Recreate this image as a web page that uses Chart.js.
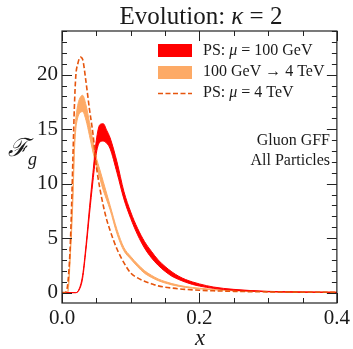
<!DOCTYPE html>
<html>
<head>
<meta charset="utf-8">
<script src="https://cdn.jsdelivr.net/npm/chart.js@4.4.1/dist/chart.umd.min.js"></script>
<style>
  html, body { margin: 0; padding: 0; background: #fff; }
  #wrap { width: 353px; height: 349px; }
</style>
</head>
<body>
<div id="wrap"><canvas id="gff" width="353" height="349"></canvas></div>
<script>
// PS: mu = 100 GeV (band)
const redX = [0, 0.02, 0.025, 0.03, 0.035, 0.04, 0.045, 0.05, 0.055, 0.06, 0.065, 0.07, 0.08, 0.09, 0.10, 0.11, 0.12, 0.13, 0.14, 0.15, 0.16, 0.17, 0.18, 0.19, 0.20, 0.22, 0.25, 0.30, 0.35, 0.40];
const redUpper = [0, 0, 0.35, 1.6, 4.4, 7.8, 11.0, 14.0, 15.4, 15.5, 14.9, 14.2, 12.0, 9.3, 7.4, 5.9, 4.7, 3.8, 3.0, 2.4, 1.9, 1.5, 1.2, 0.98, 0.8, 0.52, 0.3, 0.12, 0.06, 0.03];
const redLower = [0, 0, 0.25, 1.3, 4.0, 7.2, 10.2, 12.8, 13.8, 13.9, 13.7, 13.2, 11.0, 8.6, 6.8, 5.3, 4.1, 3.2, 2.5, 1.95, 1.5, 1.2, 0.95, 0.75, 0.6, 0.4, 0.22, 0.08, 0.04, 0.02];

// 100 GeV -> 4 TeV (band)
const orangeX = [0, 0.008, 0.01, 0.012, 0.014, 0.016, 0.018, 0.02, 0.022, 0.025, 0.03, 0.035, 0.04, 0.045, 0.05, 0.055, 0.06, 0.07, 0.08, 0.09, 0.10, 0.11, 0.12, 0.13, 0.14, 0.15, 0.16, 0.18, 0.20, 0.22, 0.25, 0.30, 0.35, 0.40];
const orangeUpper = [0, 0, 1.2, 3.8, 6.4, 9.5, 13.6, 15.9, 16.9, 17.7, 18.1, 17.2, 15.6, 13.9, 12.4, 11.3, 10.2, 8.0, 5.8, 4.15, 3.32, 2.62, 2.02, 1.6, 1.26, 1.02, 0.83, 0.56, 0.41, 0.3, 0.19, 0.1, 0.055, 0.035];
const orangeLower = [0, 0, 0.8, 3.2, 5.6, 8.7, 12.8, 14.9, 15.8, 16.4, 16.6, 15.8, 14.4, 12.9, 11.6, 10.5, 9.4, 7.6, 5.4, 3.85, 3.08, 2.38, 1.78, 1.4, 1.1, 0.88, 0.71, 0.48, 0.35, 0.26, 0.17, 0.08, 0.045, 0.025];

// PS: mu = 4 TeV (dashed)
const psX = [0, 0.004, 0.006, 0.008, 0.01, 0.012, 0.014, 0.016, 0.018, 0.02, 0.023, 0.027, 0.03, 0.035, 0.04, 0.045, 0.05, 0.055, 0.06, 0.065, 0.07, 0.075, 0.08, 0.09, 0.10, 0.11, 0.12, 0.13, 0.14, 0.15, 0.16, 0.17, 0.18, 0.20, 0.22, 0.25, 0.30, 0.35, 0.40];
const psY = [0, 0, 0.1, 0.6, 2.0, 4.3, 8.0, 12.6, 17.0, 19.8, 21.0, 21.6, 21.4, 19.3, 16.8, 14.6, 11.6, 9.6, 8.0, 6.7, 5.7, 4.8, 4.0, 2.75, 1.8, 1.35, 1.05, 0.82, 0.62, 0.5, 0.42, 0.35, 0.3, 0.22, 0.17, 0.12, 0.07, 0.04, 0.03];

// ticks
const xTicks = [0, 0.2, 0.4];
const xTickLabels = ['0.0', '0.2', '0.4'];
const xMinorTicks = [0.05, 0.1, 0.15, 0.25, 0.3, 0.35];
const yTicks = [0, 5, 10, 15, 20];

const RED = '#ff0000';
const ORANGE = '#fdaa66';
const DARK = '#e6550d';
const SERIF = "'Liberation Serif', 'DejaVu Serif', serif";

const pts = (xs, ys) => xs.map((v, i) => ({ x: v, y: ys[i] }));

// texte avec morceaux en italique
function richText(ctx, parts, x, y, size, align) {
  const fontOf = it => (it ? 'italic ' : '') + size + 'px ' + SERIF;
  let w = 0;
  parts.forEach(p => { ctx.font = fontOf(p[1]); w += ctx.measureText(p[0]).width; });
  let cx = align === 'center' ? x - w / 2 : align === 'right' ? x - w : x;
  ctx.textAlign = 'left';
  ctx.textBaseline = 'middle';
  parts.forEach(p => {
    ctx.font = fontOf(p[1]);
    ctx.fillText(p[0], cx, y);
    cx += ctx.measureText(p[0]).width;
  });
}

const decor = {
  id: 'decor',
  afterDraw(chart) {
    const { ctx, chartArea: a, scales: { x, y } } = chart;
    ctx.save();
    // cadre + ticks vers l'intérieur
    ctx.strokeStyle = '#222';
    ctx.lineWidth = 1.2;
    ctx.strokeRect(a.left, a.top, a.right - a.left, a.bottom - a.top);
    ctx.lineWidth = 1;
    ctx.beginPath();
    const xt = (v, l) => {
      const p = Math.round(x.getPixelForValue(v)) + 0.5;
      ctx.moveTo(p, a.bottom); ctx.lineTo(p, a.bottom - l);
      ctx.moveTo(p, a.top); ctx.lineTo(p, a.top + l);
    };
    const yt = (v, l) => {
      const p = Math.round(y.getPixelForValue(v)) + 0.5;
      ctx.moveTo(a.left, p); ctx.lineTo(a.left + l, p);
      ctx.moveTo(a.right, p); ctx.lineTo(a.right - l, p);
    };
    xTicks.forEach(v => xt(v, 10));
    xMinorTicks.forEach(v => xt(v, 5));
    for (let v = 0; v <= 24; v++) yt(v, v % 5 === 0 ? 10 : 5);
    ctx.stroke();

    ctx.fillStyle = '#1a1a1a';
    // titre
    richText(ctx, [['Evolution: ', false], ['κ', true], [' = 2', false]], 201, 17, 25, 'center');
    // axe x
    richText(ctx, [['x', true]], 200, 339, 23, 'center');
    // axe y : F_g
    ctx.font = 'italic 25px ' + SERIF;
    ctx.textBaseline = 'middle';
    ctx.textAlign = 'left';
    ctx.fillText('ℱ', 8, 149);
    ctx.font = 'italic 18px ' + SERIF;
    ctx.fillText('g', 28, 160);

    // légende
    ctx.fillStyle = RED;
    ctx.fillRect(158, 44, 34, 13);
    ctx.fillStyle = ORANGE;
    ctx.fillRect(158, 66, 34, 13);
    ctx.strokeStyle = DARK;
    ctx.lineWidth = 1.6;
    ctx.setLineDash([5, 2.5]);
    ctx.beginPath();
    ctx.moveTo(158, 93.5); ctx.lineTo(192, 93.5);
    ctx.stroke();
    ctx.setLineDash([]);
    ctx.fillStyle = '#1a1a1a';
    richText(ctx, [['PS: ', false], ['μ', true], [' = 100 GeV', false]], 203, 51, 16, 'left');
    richText(ctx, [['100 GeV → 4 TeV', false]], 203, 72, 16, 'left');
    richText(ctx, [['PS: ', false], ['μ', true], [' = 4 TeV', false]], 203, 93, 16, 'left');

    richText(ctx, [['Gluon GFF', false]], 330, 141, 16, 'right');
    richText(ctx, [['All Particles', false]], 330, 161, 16, 'right');
    ctx.restore();
  }
};

const lineBase = { pointRadius: 0, cubicInterpolationMode: 'monotone', borderJoinStyle: 'round' };

new Chart(document.getElementById('gff').getContext('2d'), {
  type: 'line',
  data: {
    datasets: [
      Object.assign({ data: pts(psX, psY), borderColor: DARK, borderWidth: 1.6, borderDash: [5, 2.5], fill: false, order: 0 }, lineBase),
      Object.assign({ data: pts(redX, redUpper), borderColor: RED, borderWidth: 1, backgroundColor: RED, fill: '+1', order: 1 }, lineBase),
      Object.assign({ data: pts(redX, redLower), borderColor: RED, borderWidth: 1, fill: false, order: 1 }, lineBase),
      Object.assign({ data: pts(orangeX, orangeUpper), borderColor: ORANGE, borderWidth: 1, backgroundColor: ORANGE, fill: '+1', order: 2 }, lineBase),
      Object.assign({ data: pts(orangeX, orangeLower), borderColor: ORANGE, borderWidth: 1, fill: false, order: 2 }, lineBase)
    ]
  },
  options: {
    responsive: false,
    devicePixelRatio: 1,
    animation: false,
    layout: { padding: { left: 12, right: 14, top: 31, bottom: 0 } },
    plugins: { legend: { display: false }, tooltip: { enabled: false } },
    scales: {
      x: {
        type: 'linear',
        min: 0,
        max: 0.4,
        grid: { display: false, drawTicks: false },
        border: { display: false },
        afterBuildTicks: s => { s.ticks = xTicks.map(v => ({ value: v })); },
        afterFit: s => { s.height = 46; },
        ticks: {
          padding: 3,
          color: '#1a1a1a',
          maxRotation: 0,
          font: { family: SERIF, size: 21 },
          callback: (v, i) => xTickLabels[i]
        }
      },
      y: {
        type: 'linear',
        min: -0.95,
        max: 24,
        grid: { display: false, drawTicks: false },
        border: { display: false },
        afterBuildTicks: s => { s.ticks = yTicks.map(v => ({ value: v })); },
        afterFit: s => { s.width = 50; },
        ticks: {
          padding: 4,
          color: '#1a1a1a',
          font: { family: SERIF, size: 21 }
        }
      }
    }
  },
  plugins: [decor]
});
</script>
</body>
</html>
